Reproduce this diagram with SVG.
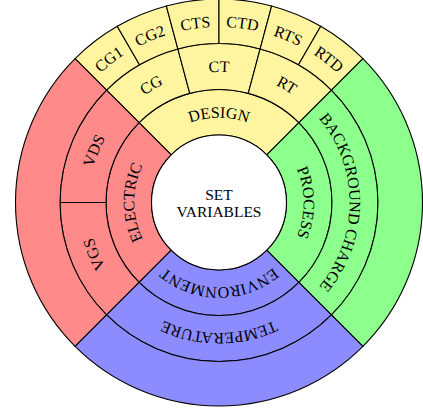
<svg xmlns="http://www.w3.org/2000/svg" xmlns:xlink="http://www.w3.org/1999/xlink" width="423" height="410" viewBox="0 0 423 410">
<style>
.seg{stroke:#000;stroke-width:1.1;stroke-linejoin:round}
.y{fill:#fff5a0}.r{fill:#ff8a8a}.g{fill:#8cff8c}.b{fill:#8c8cff}
text{font-family:"Liberation Serif","Times New Roman",serif;font-size:16px;fill:#000}
.c{font-size:15.5px}
</style>
<defs>
<path id="ring1" d="M 159.25 262.25 A 84.5 84.5 0 1 1 278.75 142.75 A 84.5 84.5 0 1 1 159.25 262.25"/>
<path id="ring2" d="M 126.72 294.78 A 130.5 130.5 0 1 1 311.28 110.22 A 130.5 130.5 0 1 1 126.72 294.78"/>
<path id="ring3" d="M 94.90 326.60 A 175.5 175.5 0 1 1 343.10 78.40 A 175.5 175.5 0 1 1 94.90 326.60"/>
</defs>
<rect width="423" height="410" fill="#fff"/>
<g id="connectors"/>
<g id="design">
<path class="seg y" d="M 139.10 122.60 A 113 113 0 0 1 298.90 122.60 L 266.73 154.77 A 67.5 67.5 0 0 0 171.27 154.77 Z"/>
<text><textPath href="#ring1" startOffset="37.5%" text-anchor="middle">DESIGN</textPath></text>
</g>
<g id="cg">
<path class="seg y" d="M 106.57 90.07 A 159 159 0 0 1 177.85 48.92 L 189.75 93.35 A 113 113 0 0 0 139.10 122.60 Z"/>
<text><textPath href="#ring2" startOffset="29.1667%" text-anchor="middle">CG</textPath></text>
</g>
<g id="ct">
<path class="seg y" d="M 177.85 48.92 A 159 159 0 0 1 260.15 48.92 L 248.25 93.35 A 113 113 0 0 0 189.75 93.35 Z"/>
<text><textPath href="#ring2" startOffset="37.5%" text-anchor="middle">CT</textPath></text>
</g>
<g id="rt">
<path class="seg y" d="M 260.15 48.92 A 159 159 0 0 1 331.43 90.07 L 298.90 122.60 A 113 113 0 0 0 248.25 93.35 Z"/>
<text><textPath href="#ring2" startOffset="45.8333%" text-anchor="middle">RT</textPath></text>
</g>
<g id="cg1">
<path class="seg y" d="M 75.10 58.60 A 203.5 203.5 0 0 1 117.25 26.26 L 139.5 64.80 A 159 159 0 0 0 106.57 90.07 Z"/>
<text><textPath href="#ring3" startOffset="27.0833%" text-anchor="middle">CG1</textPath></text>
</g>
<g id="cg2">
<path class="seg y" d="M 117.25 26.26 A 203.5 203.5 0 0 1 166.33 5.93 L 177.85 48.92 A 159 159 0 0 0 139.5 64.80 Z"/>
<text><textPath href="#ring3" startOffset="31.25%" text-anchor="middle">CG2</textPath></text>
</g>
<g id="cts">
<path class="seg y" d="M 166.33 5.93 A 203.5 203.5 0 0 1 219 -1 L 219 43.5 A 159 159 0 0 0 177.85 48.92 Z"/>
<text><textPath href="#ring3" startOffset="35.4167%" text-anchor="middle">CTS</textPath></text>
</g>
<g id="ctd">
<path class="seg y" d="M 219 -1 A 203.5 203.5 0 0 1 271.67 5.93 L 260.15 48.92 A 159 159 0 0 0 219 43.5 Z"/>
<text><textPath href="#ring3" startOffset="39.5833%" text-anchor="middle">CTD</textPath></text>
</g>
<g id="rts">
<path class="seg y" d="M 271.67 5.93 A 203.5 203.5 0 0 1 320.75 26.26 L 298.5 64.80 A 159 159 0 0 0 260.15 48.92 Z"/>
<text><textPath href="#ring3" startOffset="43.75%" text-anchor="middle">RTS</textPath></text>
</g>
<g id="rtd">
<path class="seg y" d="M 320.75 26.26 A 203.5 203.5 0 0 1 362.90 58.60 L 331.43 90.07 A 159 159 0 0 0 298.5 64.80 Z"/>
<text><textPath href="#ring3" startOffset="47.9167%" text-anchor="middle">RTD</textPath></text>
</g>
<g id="electric">
<path class="seg r" d="M 139.10 282.40 A 113 113 0 0 1 139.10 122.60 L 171.27 154.77 A 67.5 67.5 0 0 0 171.27 250.23 Z"/>
<text><textPath href="#ring1" startOffset="12.5%" text-anchor="middle">ELECTRIC</textPath></text>
</g>
<g id="vgs">
<path class="seg r" d="M 106.57 314.93 A 159 159 0 0 1 60 202.5 L 106 202.5 A 113 113 0 0 0 139.10 282.40 Z"/>
<text><textPath href="#ring2" startOffset="6.25%" text-anchor="middle">VGS</textPath></text>
</g>
<g id="vds">
<path class="seg r" d="M 60 202.5 A 159 159 0 0 1 106.57 90.07 L 139.10 122.60 A 113 113 0 0 0 106 202.5 Z"/>
<text><textPath href="#ring2" startOffset="18.75%" text-anchor="middle">VDS</textPath></text>
</g>
<g id="electric-outer">
<path class="seg r" d="M 75.10 346.40 A 203.5 203.5 0 0 1 75.10 58.60 L 106.57 90.07 A 159 159 0 0 0 106.57 314.93 Z"/>
</g>
<g id="process">
<path class="seg g" d="M 298.90 122.60 A 113 113 0 0 1 298.90 282.40 L 266.73 250.23 A 67.5 67.5 0 0 0 266.73 154.77 Z"/>
<text><textPath href="#ring1" startOffset="62.5%" text-anchor="middle">PROCESS</textPath></text>
</g>
<g id="background-charge">
<path class="seg g" d="M 331.43 90.07 A 159 159 0 0 1 331.43 314.93 L 298.90 282.40 A 113 113 0 0 0 298.90 122.60 Z"/>
<text><textPath href="#ring2" startOffset="62.5%" text-anchor="middle">BACKGROUND CHARGE</textPath></text>
</g>
<g id="process-outer">
<path class="seg g" d="M 362.90 58.60 A 203.5 203.5 0 0 1 362.90 346.40 L 331.43 314.93 A 159 159 0 0 0 331.43 90.07 Z"/>
</g>
<g id="environment">
<path class="seg b" d="M 298.90 282.40 A 113 113 0 0 1 139.10 282.40 L 171.27 250.23 A 67.5 67.5 0 0 0 266.73 250.23 Z"/>
<text><textPath href="#ring1" startOffset="87.5%" text-anchor="middle">ENVIRONMENT</textPath></text>
</g>
<g id="temperature">
<path class="seg b" d="M 331.43 314.93 A 159 159 0 0 1 106.57 314.93 L 139.10 282.40 A 113 113 0 0 0 298.90 282.40 Z"/>
<text><textPath href="#ring2" startOffset="87.5%" text-anchor="middle">TEMPERATURE</textPath></text>
</g>
<g id="environment-outer">
<path class="seg b" d="M 362.90 346.40 A 203.5 203.5 0 0 1 75.10 346.40 L 106.57 314.93 A 159 159 0 0 0 331.43 314.93 Z"/>
</g>
<g id="set-variables">
<circle cx="219" cy="202.5" r="67.5" fill="#fff" stroke="#000" stroke-width="1.1"/>
<text class="c" x="219" y="199.5" text-anchor="middle">SET</text>
<text class="c" x="219" y="216.5" text-anchor="middle">VARIABLES</text>
</g>
</svg>
